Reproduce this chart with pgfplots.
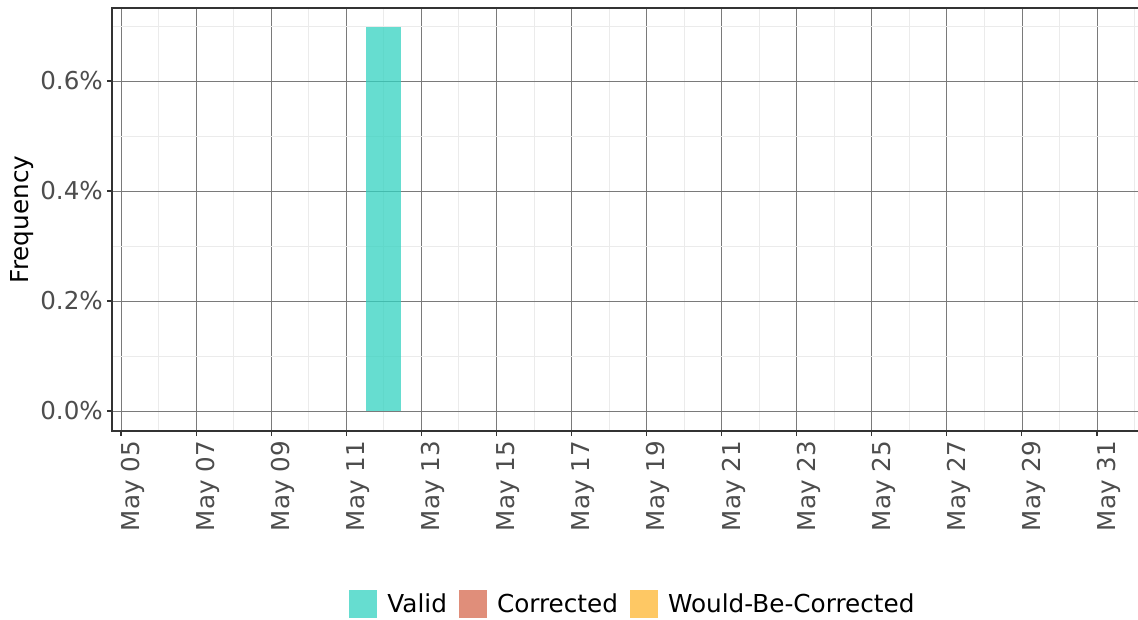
\documentclass[border=0pt]{standalone}
\usepackage{fontspec}
\setmainfont{DejaVu Sans}
\usepackage{pgfplots}
\pgfplotsset{compat=1.18}
\definecolor{valid}{RGB}{51,210,192}
\definecolor{corr}{RGB}{224,142,122}
\definecolor{wbc}{RGB}{254,200,100}
\definecolor{ticklab}{RGB}{77,77,77}
\definecolor{bordercol}{RGB}{51,51,51}
\begin{document}
\begin{tikzpicture}
\useasboundingbox (0,0) rectangle (1138pt,619pt);
\begin{axis}[
  at={(112pt,188pt)}, anchor=south west,
  scale only axis, width=1028pt, height=423pt,
  xmin=-0.2397, xmax=27.146, ymin=-0.03636, ymax=0.73273,
  axis line style={bordercol, line width=1.1pt},
  xtick={0,2,...,26},
  xticklabels={May 05,May 07,May 09,May 11,May 13,May 15,May 17,May 19,May 21,May 23,May 25,May 27,May 29,May 31},
  minor xtick={1,3,...,27},
  ytick={0,0.2,0.4,0.6},
  yticklabels={0.0\%,0.2\%,0.4\%,0.6\%},
  minor ytick={0.1,0.3,0.5,0.7},
  grid=both,
  major grid style={black!52, line width=0.8pt},
  minor grid style={black!8, line width=0.8pt},
  tick align=outside, xtick pos=bottom, ytick pos=left,
  major tick length=5pt, minor tick length=0pt,
  tick style={bordercol, line width=1.1pt},
  xticklabel style={rotate=90, anchor=north east, inner sep=0pt, font=\fontsize{24.6}{28}\selectfont, text=ticklab, xshift=-5pt},
  yticklabel style={anchor=east, inner sep=0pt, font=\fontsize{24.6}{28}\selectfont, text=ticklab, xshift=-4pt},
  ylabel={Frequency},
  ylabel style={at={(axis description cs:-0.0877,0.5)}, anchor=center, rotate=0, font=\fontsize{24.7}{28}\selectfont, inner sep=0pt},
  legend columns=3,
  legend style={at={(axis description cs:0.5058,-0.409)}, anchor=center, draw=none, fill=none,
    font=\fontsize{24.7}{28}\selectfont, inner sep=0pt, column sep=0pt,
    nodes={inner sep=0pt, anchor=west},
    /tikz/every odd column/.append style={column sep=10pt},
    /tikz/every even column/.append style={column sep=12pt}},
  legend image code/.code={\fill[#1] (0pt,-14pt) rectangle (28pt,14pt);},
]
\addplot[ybar, bar width=0.93, bar shift=0pt, fill=valid, fill opacity=0.75, draw=none] coordinates {(7,0.698)};
\addlegendentry{Valid}
\addlegendimage{fill=corr, draw=none}
\addlegendentry{Corrected}
\addlegendimage{fill=wbc, draw=none}
\addlegendentry{Would-Be-Corrected}
\end{axis}
\end{tikzpicture}
\end{document}
